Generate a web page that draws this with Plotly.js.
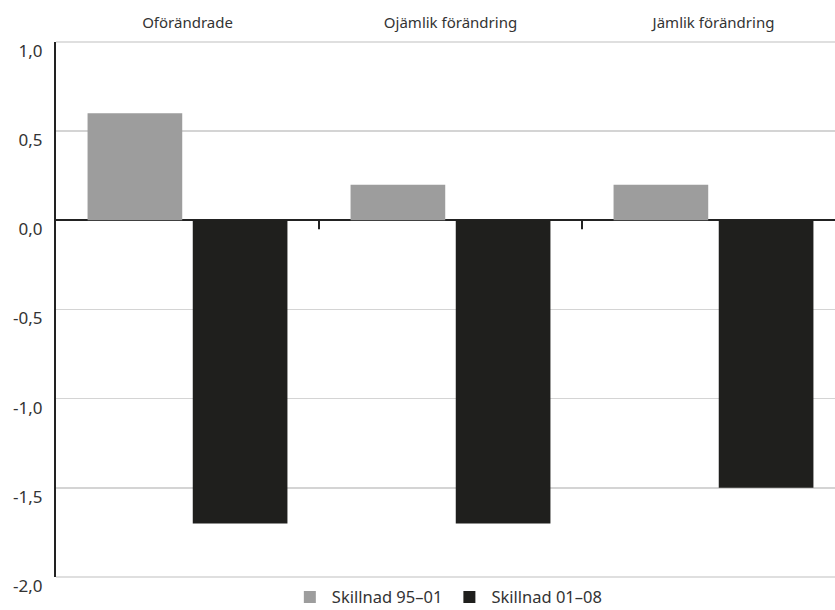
<!DOCTYPE html>
<html>
<head>
<meta charset="utf-8">
<script src="https://cdn.plot.ly/plotly-3.0.1.min.js"></script>
<style>html,body{margin:0;padding:0;background:#fff;}#chart{width:835px;height:610px;}</style>
</head>
<body>
<div id="chart"></div>
<script>
const categories = ["Oförändrade", "Ojämlik förändring", "Jämlik förändring"];
const seriesNames = ["Skillnad 95–01", "Skillnad 01–08"];
const diff9501 = [0.6, 0.2, 0.2];
const diff0108 = [-1.7, -1.7, -1.5];
const yTickVals = [1.0, 0.5, 0.0, -0.5, -1.0, -1.5, -2.0];
const yTickText = ["1,0", "0,5", "0,0", "-0,5", "-1,0", "-1,5", "-2,0"];

const font = "'Noto Sans', 'Open Sans', sans-serif";
const traces = [
  {type: "bar", name: seriesNames[0], x: categories, y: diff9501, marker: {color: "#9d9d9d"}},
  {type: "bar", name: seriesNames[1], x: categories, y: diff0108, marker: {color: "#1f1f1d"}}
];

const shapes = [0.5, 1.5].map(v => ({
  type: "line", xref: "x", yref: "y", x0: v, x1: v, y0: 0, y1: -0.05,
  line: {color: "#222", width: 2}
})).concat([0, 1].map(p => ({
  type: "line", xref: "paper", yref: "paper", x0: 0, x1: 1, y0: p, y1: p,
  line: {color: "#d4d4d4", width: 1.5}, layer: "below"
})));

const layout = {
  width: 835, height: 610,
  margin: {l: 56, r: 0, t: 42, b: 33, autoexpand: false},
  paper_bgcolor: "#fff", plot_bgcolor: "#fff",
  font: {family: font, color: "#333"},
  barmode: "group", bargap: 0.2, bargroupgap: 0.1,
  showlegend: true,
  legend: {orientation: "h", x: 0.503, xanchor: "center", y: -0.005, yanchor: "top",
           font: {size: 16.5, color: "#333"}, itemwidth: 34, tracegroupgap: 0},
  xaxis: {side: "top", range: [-0.5, 2.462], showgrid: false, showline: false, zeroline: false,
          ticks: "", tickfont: {size: 15, color: "#333"}, ticklabelstandoff: 10, fixedrange: true},
  yaxis: {range: [-2, 1], tickvals: yTickVals, ticktext: yTickText,
          showgrid: true, gridcolor: "#d4d4d4", gridwidth: 1.5,
          zeroline: true, zerolinecolor: "#222", zerolinewidth: 2,
          showline: true, linecolor: "#222", linewidth: 2,
          ticks: "", tickfont: {size: 17, color: "#333"}, ticklabelstandoff: 8, ticklabelshift: 9},
  shapes: shapes
};

Plotly.newPlot("chart", traces, layout, {displayModeBar: false, staticPlot: true});
</script>
</body>
</html>
